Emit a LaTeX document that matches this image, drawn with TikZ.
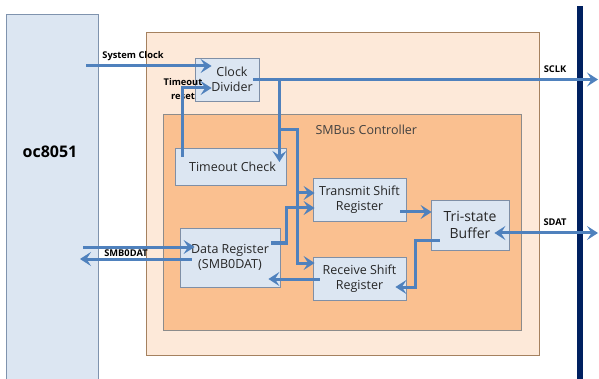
\documentclass[tikz,border=0pt]{standalone}
\usepackage{fontspec}
\setmainfont{Open Sans}
\usetikzlibrary{arrows.meta}
\definecolor{cpublue}{HTML}{DCE6F2}
\definecolor{cpuedge}{HTML}{7F93AE}
\definecolor{peach}{HTML}{FDE9D9}
\definecolor{peachedge}{HTML}{A5815F}
\definecolor{smbus}{HTML}{FAC090}
\definecolor{smbusedge}{HTML}{8C8C8C}
\definecolor{boxedge}{HTML}{7F8FA6}
\definecolor{wireblue}{HTML}{4F81BD}
\definecolor{navy}{HTML}{002060}

\begin{document}
\begin{tikzpicture}[x=1pt,y=-1pt,
		blk/.style = {draw = boxedge, fill = cpublue, line width = 0.8pt, align = center, inner sep = 0pt,
			font = \fontsize{12.5}{15}\selectfont, text = black!85},
		wire/.style = {draw = wireblue, line width = 3pt, -{Stealth[length = 11pt, width = 14pt, inset = 4.5pt]}},
		sig/.style = {font = \bfseries\fontsize{9.3}{11}\selectfont, align = center, inner sep = 0pt}]
		\useasboundingbox (0, 0) rectangle (599, 379);
		\filldraw[fill = cpublue, draw = cpuedge, line width = 0.8pt] (6, 381) |- (98, 14) -- (98, 381);
		\filldraw[fill = peach, draw = peachedge, line width = 0.8pt] (146, 32) rectangle (539, 355);
		\filldraw[fill = smbus, draw = smbusedge, line width = 0.8pt] (163, 114) rectangle (521, 330);
		\fill[navy] (577, 6) rectangle (583, 379);
		%%%%%%%%%%%%%
		\node[font = \bfseries\fontsize{16}{19}\selectfont] (cpu) at (50, 152) {oc8051};
		\node[anchor = west, font = \fontsize{12.5}{15}\selectfont, text = black!75] (ctrl) at (312, 130) {SMBus Controller};
		\node[blk, minimum width = 64, minimum height = 43] (clk) at (227, 79.5) {\hspace*{10pt}Clock\\\hspace*{10pt}Divider};
		\node[blk, minimum width = 111, minimum height = 37] (tmo) at (230.5, 166.5) {\hspace*{4pt}Timeout Check};
		\node[blk, minimum width = 93, minimum height = 43] (tx) at (359.5, 199.5) {Transmit Shift\\Register};
		\node[blk, minimum width = 78, minimum height = 50, font = \fontsize{14}{17}\selectfont] (tri) at (470, 225) {Tri-state\\Buffer};
		\node[blk, minimum width = 100, minimum height = 59] (dr) at (230, 257.5) {Data Register\\(SMB0DAT)};
		\node[blk, minimum width = 93, minimum height = 43] (rx) at (359.5, 278.5) {Receive Shift\\Register};
		%%%%%%%%%%%%%
		\node[sig] (lsys) at (133, 56) {System Clock};
		\node[sig, font = \bfseries\fontsize{9.3}{14}\selectfont] (lrst) at (183, 89) {Timeout\\reset};
		\node[sig] (lsclk) at (555, 69) {SCLK};
		\node[sig] (lsdat) at (555, 222) {SDAT};
		\node[sig] (lsmb) at (126, 253) {SMB0DAT};
		%%%%%%%%%%%%%
		\coordinate (sysin) at (86, 66);
		\coordinate (sclk) at (598, 79.5);
		\coordinate (sdat) at (598, 233);
		\coordinate (datin) at (83, 247);
		\coordinate (datout) at (80, 259);
		\coordinate (tap) at (279, 130);
		\coordinate (bus) at (297, 130);
		\coordinate (txup) at ([shift = {(2, -6.5)}]tx.west);
		\coordinate (rxup) at ([shift = {(2, -15.5)}]rx.west);
		%%%%%%%%%%%%%
		\draw[wire] (sysin) to ([shift = {(17, -13.5)}]clk.west);
		\draw[wire] ([xshift = -6pt]clk.east) to (sclk);
		\draw[wire] ([shift = {(8, -9.5)}]tmo.west) |- ([shift = {(17, 8.5)}]clk.west);
		\draw[wire] ([xshift = 20pt]clk.east) to ([shift = {(-7, -4.5)}]tmo.east);
		\draw[wire] (tap) -- (bus) |- (rxup);
		\draw[wire] (bus |- txup) to (txup);
		\draw[wire] ([shift = {(-9, -14.5)}]dr.east) -- ++(15, 0) |- ([shift = {(2, 8.5)}]tx.west);
		\draw[wire] (datin) to ([shift = {(15, -10.5)}]dr.west);
		\draw[wire] ([shift = {(12, 1.5)}]dr.west) to (datout);
		\draw[wire] ([shift = {(7, 0.5)}]rx.west) to ([shift = {(-12, 21.5)}]dr.east);
		\draw[wire] ([shift = {(-6, 12.5)}]tx.east) to ([shift = {(1, -13)}]tri.west);
		\draw[wire] ([shift = {(9, 16)}]tri.west) -- ++(-24, 0) |- ([shift = {(-11, 8.5)}]rx.east);
		\draw[wire, {Stealth[length = 11pt, width = 14pt, inset = 4.5pt]}-{Stealth[length = 11pt, width = 14pt, inset = 4.5pt]}] ([shift = {(-15, 8)}]tri.east) to (sdat);
	\end{tikzpicture}
\end{document}
